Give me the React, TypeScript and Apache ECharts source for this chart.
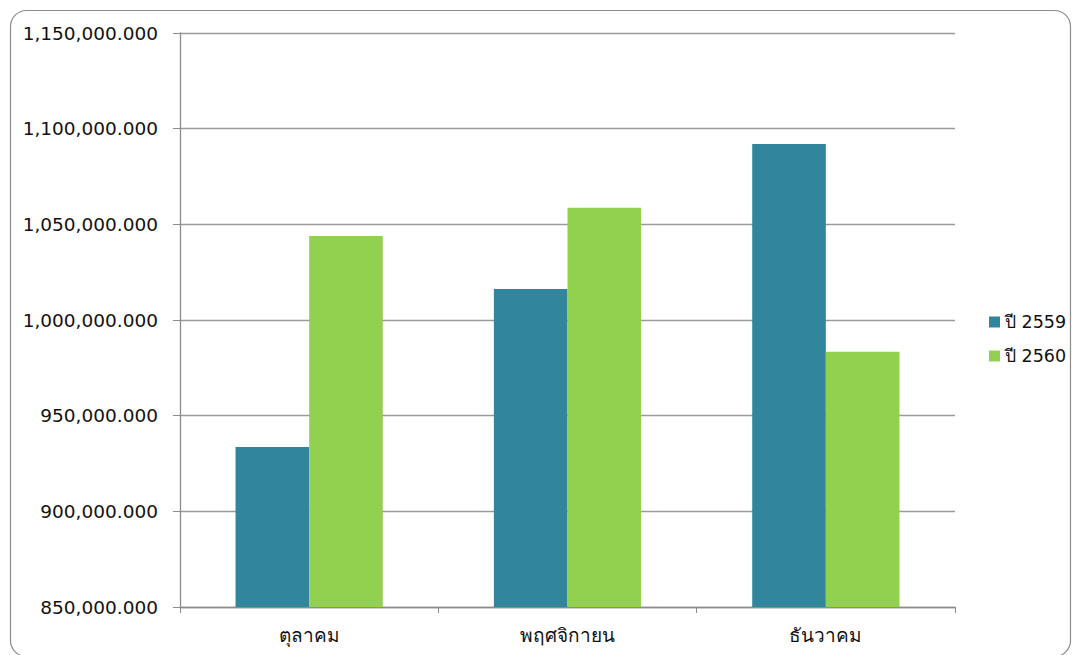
import React, { useEffect, useRef } from "react";
import * as echarts from "echarts";

const categories = ["ตุลาคม", "พฤศจิกายน", "ธันวาคม"];
const seriesNames = ["ปี 2559", "ปี 2560"];
const values2559 = [933600, 1016200, 1092000];
const values2560 = [1043900, 1058700, 983400];
const colors = ["#31859C", "#92D050"];

const FONT = "Tahoma, 'DejaVu Sans', 'Noto Sans', sans-serif";

export default function App() {
  const ref = useRef<HTMLDivElement>(null);
  useEffect(() => {
    if (!ref.current) return;
    const chart = echarts.init(ref.current, null, { renderer: "svg" });
    chart.setOption({
      animation: false,
      textStyle: { fontFamily: FONT },
      graphic: [
        {
          type: "rect",
          shape: { x: 10.5, y: 10.5, width: 1060, height: 646, r: 16 },
          style: { fill: "none", stroke: "#8c8c8c", lineWidth: 1.2 },
          silent: true,
        },
      ],
      legend: {
        orient: "vertical",
        left: 984,
        top: 308,
        itemWidth: 11,
        itemHeight: 11,
        itemGap: 16,
        icon: "rect",
        textStyle: { fontSize: 17.5, color: "#111", fontFamily: FONT, padding: [0, 0, 0, 0] },
        data: seriesNames,
      },
      grid: { left: 180, right: 118, top: 33, bottom: 48, containLabel: false },
      xAxis: {
        type: "category",
        data: categories,
        axisLine: { lineStyle: { color: "#8c8c8c", width: 1.3 } },
        axisTick: { show: true, length: 6, lineStyle: { color: "#8c8c8c" } },
        axisLabel: { fontSize: 19, color: "#111", margin: 18, fontFamily: FONT },
      },
      yAxis: {
        type: "value",
        min: 850000,
        max: 1150000,
        interval: 50000,
        axisLine: { show: true, lineStyle: { color: "#8c8c8c", width: 1.3 } },
        axisTick: { show: true, length: 7, lineStyle: { color: "#8c8c8c" } },
        splitLine: { show: true, lineStyle: { color: "#9a9a9a", width: 1.3 } },
        axisLabel: {
          fontSize: 18.5,
          color: "#111",
          margin: 22,
          fontFamily: FONT,
          formatter: (v: number) =>
            v.toLocaleString("en-US", { minimumFractionDigits: 3, maximumFractionDigits: 3 }),
        },
      },
      series: [
        {
          name: seriesNames[0],
          type: "bar",
          data: values2559,
          itemStyle: { color: colors[0] },
          barGap: "0%",
          barCategoryGap: "43%",
        },
        {
          name: seriesNames[1],
          type: "bar",
          data: values2560,
          itemStyle: { color: colors[1] },
          barGap: "0%",
          barCategoryGap: "43%",
        },
      ],
    });
    return () => chart.dispose();
  }, []);
  return (
    <div
      ref={ref}
      style={{ position: "fixed", left: 0, top: 0, width: 1073, height: 655, background: "#fff" }}
    />
  );
}
